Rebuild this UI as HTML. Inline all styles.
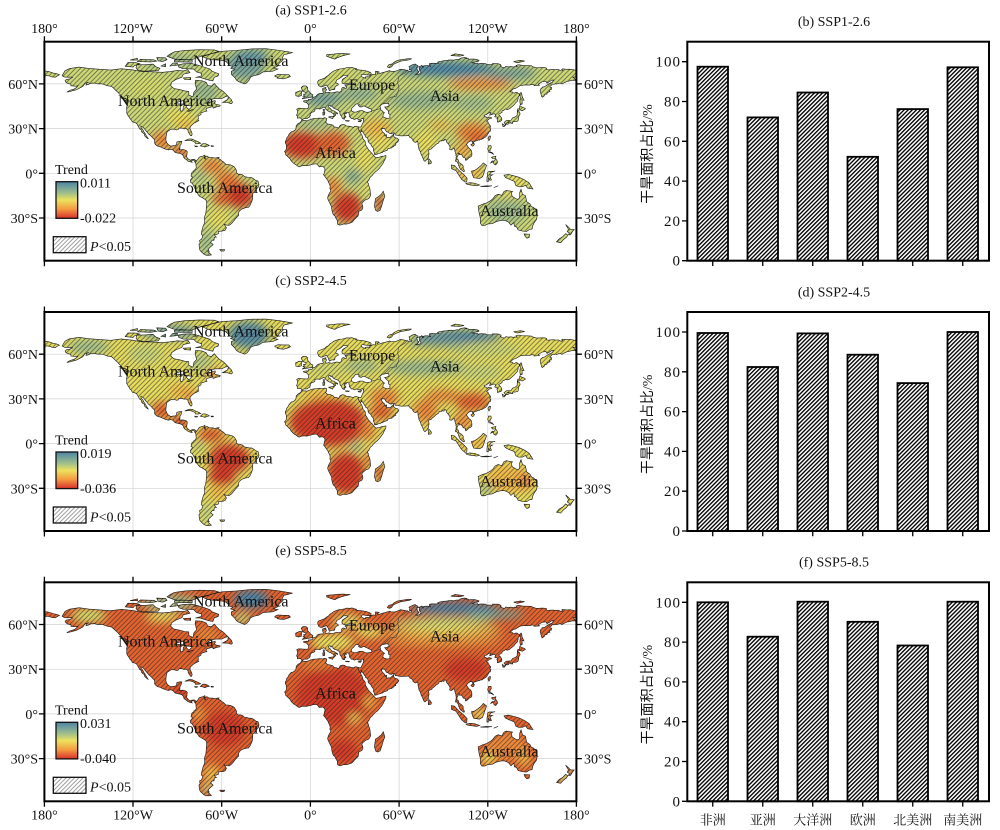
<!DOCTYPE html>
<html><head><meta charset="utf-8"><style>
html,body{margin:0;padding:0;background:#fff;}
svg{display:block;}
text{font-family:"Liberation Serif","Noto Serif CJK SC","Noto Sans CJK SC",serif;fill:#111;}
.cjk{font-family:"Liberation Serif","Noto Sans CJK SC",sans-serif;}
</style></head><body>
<svg width="1000" height="830" viewBox="0 0 1000 830" xmlns="http://www.w3.org/2000/svg">
<defs>
<path id="land" d="
M-168,65.5 L-166,68.8 -163,70.3 -156.5,71.3 -150,70.4 -141,69.7 -135,69.3 -128,70.2 -121,69.5 -114,68.3 -108,68.2 -100,67.8 -95,68.3 -90,69 -86,68.7 -83,69.5 -81.5,67.5 -86,66.5 -87,64.5 -91,63 -94,61 -94.5,58.8 -92.5,57 -88.5,56.2 -85,55.3 -82.3,55 -82.2,52.5 -79.5,51.3 -78.8,54.5 -77,56.5 -77.5,58.5 -78,60.5 -77.7,62.5 -73.5,62.2 -70.5,61 -69.5,59 -67,58.5 -65,60.3 -63.5,58.5 -61.5,56.5 -59,55 -57,53 -55.8,51.8 -57.5,51.4 -60,50.2 -64,50.2 -66.5,49.8 -68.5,48.8 -71,46.8 -69,47.5 -66,48.3 -64.5,48.8 -64.3,48 -65,47 -64,46.3 -61,45.7 -61.3,45 -63.5,44.6 -65.8,43.7 -66,44.8 -67,44.5 -70,43.7 -70.7,42.6 -70,41.8 -71.5,41.4 -74,40.6 -74,39.5 -75,38.8 -76,38.5 -75.8,37 -76,35.6 -75.5,35.3 -77,34.5 -78.5,33.8 -80,32.6 -81.3,31.3 -81.5,30 -80.5,28 -80,26.5 -80.3,25.3 -81,25.2 -81.8,26.3 -82.7,27.8 -82.8,29 -84,30 -85.5,29.8 -87,30.4 -89,30.3 -89.5,29.3 -90.5,29.1 -92,29.6 -94,29.7 -95.5,28.8 -97,27.8 -97.4,26 -97.7,24 -97.8,22.3 -97.2,20.5 -96.2,19.3 -94.5,18.2 -92.5,18.6 -91.5,18.5 -90.5,19.5 -90.4,21 -88.5,21.5 -87,21.5 -87.5,19.5 -88.2,18.5 -88.3,16.5 -88.8,15.8 -86,15.9 -84,15.3 -83.3,14.5 -83.6,12 -83.8,11 -82.5,9.5 -81.3,8.8 -80,9.3 -78.5,9.4 -77.3,8.5 -77.5,7.8 -78.2,7.5 -78.5,8.5 -79.5,8.9 -80.5,8.2 -80,7.4 -81,7.6 -82.8,8.2 -83.7,9 -85,9.8 -85.8,10.8 -85.7,11.5 -87,12.8 -88,13.2 -89.8,13.6 -91.5,14 -93,15.6 -94.5,16.2 -96,15.7 -98,16.2 -100,17 -101.6,17.8 -103.5,18.3 -105,19.5 -105.5,20.5 -105.3,21.5 -105.7,22.8 -106.8,23.8 -108,25.2 -109.3,26.2 -110.6,27.8 -111.7,29 -112.8,30.6 -114.7,31.7 -114.5,30.5 -113.3,29.2 -112.8,28 -112,27 -111.5,26 -110.6,24.6 -110,23.5 -109.5,23.1 -110.2,23.4 -111.3,24.3 -112.2,25.2 -112.3,26.4 -113.6,27.2 -114.3,28 -114.2,29 -115.5,29.8 -116.2,31.1 -116.9,32.3 -117.4,33.2 -118.5,34 -120.5,34.5 -121,35.6 -122.1,36.7 -122.5,37.6 -123,38.2 -123.8,39.5 -124.3,40.5 -124.2,42 -124.4,43.5 -124,45.7 -124,46.5 -124.7,48.3 -123,48.8 -123.2,49.4 -125,50 -127.5,50.8 -128,52 -129.5,53.5 -130.3,54.5 -131.5,55.5 -133,57 -134.5,58.3 -136.5,58.6 -138,59 -140,59.8 -142,60.1 -144,60 -146,60.6 -148.5,60.5 -150,59.7 -151.8,59.2 -151.5,60.5 -150,61.2 -152.5,60.4 -153.5,59 -154,58.3 -156.5,57 -158.5,56 -160.5,55.5 -163,54.8 -164.8,54.5 -162.5,55.8 -160,56.5 -158.5,57.5 -157.3,58.7 -159,58.5 -162,58.7 -162,59.8 -164.3,60.4 -165.5,61.2 -166,62.2 -165,63 -163,63.3 -161,64.3 -161.5,64.6 -164.7,64.5 -166.3,64.6 Z
M-118,70.8 L-117.5,72.8 -111,73 -106.5,73.3 -104.5,71.5 -101.8,70.5 -103,68.9 -108,68.8 -113,68.5 -117,69.4 Z
M-125.3,71.8 L-123.5,74.3 -118,74.2 -115.5,73.5 -119,72.3 -120,71.3 Z
M-80.5,73.7 L-76,72.6 -71,71 -68,70 -66.5,68.5 -62,66.8 -62.5,65.3 -65,64.5 -66,62 -68.5,62.5 -72,63.5 -75,64.5 -77.8,64.3 -74,65.3 -73.5,67 -77,68 -79,70 -86,70.2 -89,71.2 -89.5,72.8 -86,73.5 Z
M-90,76.2 L-80,76.3 -76,77.8 -73,78.8 -68,80 -62,81.8 -65,82.8 -75,83 -85,82.5 -92,81.5 -95,80 -97,78.5 -93,77 Z
M-92,74.8 L-80,74.6 -80,76 -88,76.5 -92,76 Z
M-95,72 L-93,74 -90,74 -90,72.5 Z M-101,72 L-98,73.5 -98,71.5 Z
M-117,75 L-115,76.5 -106,76.2 -104,75.3 -108,74.7 Z
M-100,75 L-97,76.2 -98,77.5 -104,77.7 -103,75.5 Z
M-122,76 L-117,77.2 -117,76 Z
M-86,64 L-81,64.3 -81,62.8 -85,63 Z
M-73,78.3 L-66,80.5 -60,81.9 -50,82.5 -40,83.5 -30,83.6 -21,82.5 -15,81.5 -12,81 -18,79.5 -19,77.5 -19,75.5 -21,74 -22,72 -25,70.5 -22,70 -25.5,68.5 -32,68 -35,66.2 -38.5,65.5 -40.5,64.5 -41.5,62.5 -43,60.8 -44.5,60 -46.5,60.8 -48.5,61.5 -50,62.5 -51,64 -52.5,65.5 -53.5,66.5 -53.5,68.5 -51,69.5 -54,70.5 -52.5,71.5 -55,72.5 -56,74 -58,75.5 -62,76 -66,76.2 -70,77 Z
M-24,65.5 L-22,66.4 -18,66.2 -14.6,66.2 -13.5,65 -15,64.3 -18,63.4 -20,63.5 -22.5,63.9 -22,64.5 -24,64.9 Z
M-85,21.9 L-82,23.1 -80,23 -77.5,21.8 -75.5,21 -74.2,20.2 -75.5,19.9 -77.7,19.8 -78,20.7 -79.5,21.6 -81.5,22.2 -84,22 Z
M-74.5,18.4 L-72.8,19.9 -71,19.9 -69.5,19.3 -68.4,18.6 -70,18.2 -71.4,17.6 -72.8,18.1 Z
M-78.3,18.4 L-76.3,18.2 -76.8,17.8 -78,17.9 Z M-67.2,18.5 L-65.6,18.4 -65.7,18 -67.1,18 Z
M-59.4,47.6 L-56,49.5 -55.5,51.5 -53.5,49.5 -52.7,47.5 -53.5,46.7 -56,47.5 Z
M-128.3,50.8 L-125,50.3 -123.3,48.4 -125,48.8 -127,50 Z
M-77.3,8 L-76.8,8.7 -75.8,9.8 -75.3,10.8 -74.2,11.2 -73,11.5 -72.2,11.8 -71.4,12.3 -71.2,11.4 -71.8,10.8 -71.6,9.8 -71,9.5 -71.4,10.8 -70,11.6 -68.5,10.6 -66.2,10.6 -64.5,10.2 -63,10.6 -61.8,10.7 -62.5,10 -61,9.3 -60.2,8.4 -59,7.8 -58,6.8 -57,5.9 -55.5,5.9 -54,5.6 -52.5,5 -51.5,4.3 -51,3.6 -50,1.9 -50,0.3 -48.5,-0.8 -47.5,-0.6 -46,-1 -44.5,-2.3 -43.3,-2.4 -41.5,-2.9 -39.8,-2.9 -38.2,-3.8 -37,-4.8 -35.5,-5.2 -35,-6.5 -34.8,-7.8 -35.2,-9.2 -36.4,-10.5 -37.2,-11.5 -38,-12.8 -39,-13.5 -39,-15 -39.2,-17.6 -39.7,-19 -40.3,-20.3 -41,-21.8 -42,-22.9 -43.5,-23 -44.8,-23.4 -46.5,-24 -48,-25.3 -48.6,-26.5 -48.6,-28.3 -49.6,-29.3 -50.7,-30.5 -52,-32.2 -53.4,-33.8 -54.9,-34.9 -56.5,-34.8 -58.4,-34.2 -57.4,-35.5 -56.8,-36.6 -57.7,-38.2 -59.2,-38.7 -61.5,-38.9 -62.3,-39 -62.2,-40.5 -63.8,-41.1 -65,-41.1 -64.3,-42.3 -63.6,-42.8 -65,-43 -65.2,-44.9 -66.6,-45.1 -67.5,-46.4 -65.8,-47.8 -67.7,-49.5 -68.6,-50.3 -69.1,-51.6 -68.4,-52.4 -69.5,-52.5 -68.3,-53.5 -67,-54.8 -68.6,-55 -70.5,-55 -72,-54.3 -74,-52.5 -74.8,-51.5 -75.2,-49.5 -75.4,-47.8 -74.6,-46.8 -75,-45 -73.6,-44.2 -72.8,-42 -73.7,-41 -73.6,-39.5 -73.2,-37.6 -72.6,-35.5 -71.7,-33.5 -71.5,-32 -71.7,-30 -71.4,-28.5 -70.9,-27.5 -70.6,-25.5 -70.4,-23 -70.2,-20.5 -70.3,-18.4 -71.3,-17.5 -73,-16.5 -75.2,-15.3 -76.2,-13.9 -76.7,-12.6 -77.6,-11.5 -78.2,-10 -79.2,-8 -79.9,-6.8 -81.1,-6 -81.2,-4.5 -80.3,-3.5 -79.8,-2.5 -80.8,-1.8 -80.5,-0.5 -80,0.8 -79,1.2 -78.9,1.9 -77.8,2.6 -77.2,3.8 -77.4,5 -77.4,6.3 -77.9,7.2 Z
M-61.3,-51.2 L-58,-51.2 -58.5,-52.2 -60.5,-52.2 Z
M-5.9,35.8 L-6.2,35.1 -6.9,34.1 -8.4,33.3 -9.6,32 -9.8,29.9 -10.4,29.1 -11.7,28.1 -12.9,27.9 -14.4,26.3 -15,25 -16,23.8 -16.3,22.5 -17,21.4 -16.9,20.3 -16.3,19.1 -16.2,17.6 -16.4,16.1 -16.9,15.1 -17.5,14.7 -16.8,13.6 -16.7,12.4 -15.8,11.7 -15.1,11 -14.3,10.2 -13.6,9.5 -13,8.3 -12,7.3 -11.1,6.5 -10,5.9 -8.6,4.8 -7.6,4.3 -6,5 -4,5.2 -2.8,5 -1.5,5.3 0,5.6 1.5,6.1 2.7,6.3 4.3,6.3 5.4,5.1 6,4.3 7.1,4.5 8.5,4.5 9.2,3.9 9.8,3.1 9.8,1.9 9.4,1.2 9.3,-0.5 8.8,-0.8 9.3,-1.5 10.1,-2.5 11.1,-3.9 11.9,-5 12.3,-6.1 12.7,-6.9 13.2,-8 13.4,-9.3 13.1,-10.2 13.8,-11.3 13.7,-12 12.7,-13.6 12.1,-14.9 11.7,-16.2 11.8,-17.2 12.6,-19 13.5,-20.8 14.4,-22.7 14.4,-24 14.9,-26.2 15.5,-27.8 16.6,-28.7 17.1,-29.9 17.7,-30.8 18.3,-31.9 18.2,-33 18.4,-34.1 19.2,-34.5 20.1,-34.8 21.4,-34.4 22.5,-34 24.7,-34.1 25.8,-33.7 27.5,-33.2 28.6,-32.5 29.5,-31.3 30.5,-30.4 31.3,-29.4 32.2,-28.8 32.5,-27.6 32.8,-26.3 32.6,-25.7 33.3,-25.3 34.8,-24.6 35.5,-23.3 35.4,-21.8 34.8,-20.5 35.2,-19.6 36.2,-18.7 37.5,-17.6 38.9,-17.3 39.8,-16.5 40.8,-14.7 40.5,-12.6 40.3,-10.5 39.9,-9.2 39.3,-8 39.3,-6.9 38.7,-6.2 39,-5 39.6,-4.5 40.2,-3.1 40.9,-2.1 41.6,-1.7 42.6,-0.4 43.9,0.9 45.4,2 46.6,3.3 47.7,4.7 48.5,5.8 49.2,6.8 49.7,8 50.4,9.1 50.8,10.3 51.1,10.6 51.1,11.9 49.7,11.6 48.4,11.4 46.6,10.8 45.5,10.7 44.6,10.4 43.7,10.9 43.5,11.3 42.7,12.1 42.4,12.5 41.6,13.5 40.9,14.1 39.8,15.4 39.3,15.9 38.8,16.6 38.4,17.4 37.8,18.4 37.5,18.6 37.2,19.6 37.1,20.7 37.1,21.3 36.6,22 35.5,23.1 35.5,23.8 34.9,25.5 34.5,26.1 33.9,27.4 33.6,27.9 33.1,28.4 32.4,29.9 32.3,31.2 31,31.6 30,31.5 29.1,30.9 27.5,31.3 26.3,31.6 25.2,31.6 24,31.9 23.1,32.6 21.7,32.8 20.1,32.2 19.8,31.6 19,30.3 17.9,30.9 16,31.2 15.2,32.3 13.3,32.9 11.5,33.1 10.9,33.8 10.1,34.3 10.8,35.1 11.1,36.8 10.2,37.2 9.5,37.3 8.4,36.9 6.3,37.1 4.8,36.9 3.2,36.8 1.5,36.6 0.5,36.3 -0.4,35.9 -1.2,35.7 -2.2,35.2 -3.6,35.4 -4.6,35.3 -5.2,35.8 Z
M44.2,-25 L43.3,-22 44,-17 46,-15.7 48,-14 49.3,-12 50.4,-15.5 49.5,-17.5 48.5,-21 47.2,-24.8 45.5,-25.6 Z
M-5.6,36 L-6.3,36.8 -7.4,37.2 -8.9,37 -8.8,38.5 -9.4,38.8 -8.9,40.2 -8.7,42 -9.3,43 -8,43.7 -6,43.6 -4,43.4 -1.8,43.4 -1.3,44.5 -1.2,46 -2.2,47 -2.5,47.5 -4.4,47.9 -4.7,48.5 -3,48.8 -1.5,48.7 -1.4,49.6 0.2,49.6 1.5,50.2 1.7,51 3,51.3 3.8,51.8 4.8,53 6,53.5 7.3,53.7 8.5,53.6 8.7,54.5 8.3,55.5 8.2,56.8 8.6,57.1 10.5,57.7 10.4,56.5 10.9,56.3 10.6,55.5 9.9,55 10,54.4 11,54 12.5,54.4 14.2,53.9 16,54.3 18,54.8 19.5,54.4 21.2,55.2 21.1,56.5 21.5,57.4 22.6,57.7 23.7,57 24.4,57.3 24.3,58.3 23.5,58.6 23.5,59.2 25.5,59.6 28,59.5 30.2,59.9 28.5,60.5 26,60.4 23,59.9 21.5,60.6 21.3,61.8 21.7,63 22.8,63.8 24.7,64.9 25.4,65.5 24.5,65.8 22.3,65.8 21.3,64.8 19.8,63.7 18,62.8 17.3,61.5 17.2,60.7 18.6,60.2 18.9,59.3 17.8,58.9 16.6,57.8 16.5,56.3 15.8,56.1 14.6,56.2 12.9,55.4 12.5,56.2 12.1,57.5 11.4,58.6 10.6,59.4 10.3,59 9.4,58.7 8.1,58.1 7,58 5.6,58.8 5.3,59.6 4.9,60.7 5,61.6 5.6,62.4 7,62.9 8.6,63.5 9.8,64 10.6,64.8 12.3,65.8 13.2,66.9 14.5,67.7 15.5,68.5 16.6,69 18.2,69.6 19.6,70 21.5,70.2 23.2,70.5 24.6,71 26.3,70.9 28.2,71.1 29.5,70.6 31.2,70.2 30.5,69.7 32.9,69.4 35.5,69.1 38.2,68.6 40.4,67.8 41.1,67.2 41,66.3 39.5,65.9 38,66 35.5,66.5 34.3,66 34.7,65 35.5,64.4 36.5,64.1 37.5,63.8 37.2,64.6 38.5,64.8 40.3,64.6 40.1,65.6 42.5,66.4 44,66.2 43.9,67.5 44.1,68.4 46,68.3 46.6,67.9 45,67.4 46.3,66.7 48.5,67.5 50.5,68 53.6,68.9 54.5,68.5 55.6,68.4 57.4,68.5 58.9,69 60.1,69.5 60.9,69.9 63.5,69.5 64.9,69.2 67,68.5 68.2,68.3 68.6,69.2 66.9,69.5 67.3,70.8 66.7,71.6 68.5,72.6 69.3,73 70.9,73.4 71.5,72.9 72.8,72.2 72.5,71.1 71.9,71.2 72.3,69.8 72.6,68.8 73.6,68.3 73.2,67.8 72.3,66.8 71.2,66.4 72.4,66.2 73.9,66.8 74.9,67.8 74.4,68.8 73.8,69.1 73.6,70.4 74.2,71.1 73.1,71.4 74.9,72.1 75.4,72.5 75.7,71.4 76.5,71.2 75.9,71.9 77.6,72.3 79.6,72.3 81.5,71.7 80.6,72.6 80.5,73.6 82.3,73.9 84.6,73.8 86.8,73.9 86,74.5 87.2,75.1 88.3,75.2 90.3,75.6 92.9,75.8 93.2,76 95.9,76.1 96.7,75.9 98.9,76.4 100.8,76.4 101,76.9 102.1,77.4 104.4,77.7 106.1,77.4 104.7,77.1 106.9,77 107.2,76.5 108.2,76.7 111.1,76.7 113.3,76.2 114.1,75.8 113.9,75.3 112.8,75 110.2,74.5 109.4,74.2 110.6,74 112.1,73.8 113,74 113.5,73.3 114,73.6 115.6,73.8 118.8,73.6 119,73.1 123.2,73 123.3,73.7 125.4,73.6 127,73.6 128.6,73 129.1,72.4 128.5,72 129.7,71.2 131.3,70.8 132.3,71.8 133.9,71.4 135.6,71.7 137.5,71.3 138.2,71.6 139.9,71.5 139.1,72.4 140.5,72.8 141.4,72.8 144,72.3 146.4,72.3 149.5,72.2 150.4,71.6 152.9,70.8 157,71 159,70.9 159.8,70.5 159.7,69.7 160.9,69.4 162.3,69.6 164.1,69.7 165.9,69.5 167.8,69.6 169.6,68.7 170.8,69 170,69.7 170.5,70.1 173.6,69.8 175.7,69.9 178.6,69.4 180,69 180,65 178.7,64.5 177.4,64.6 178.3,64.1 178.9,63.3 179.4,62.9 179.2,62.3 177.4,62.5 174.6,61.8 173.7,61.7 172.2,61 170.7,60.3 170.3,59.9 168.9,60.6 166.3,59.8 165.8,60.2 164.9,59.7 163.5,59.9 163.2,59.2 162,58.2 162.1,57.8 163.2,57.6 163,56.2 162.1,56.1 161.7,55.3 162.1,54.9 160.4,54.3 160,53.2 158.5,53 158.2,51.9 156.8,51 156.4,51.7 156,53.2 155.4,55.4 155.9,56.8 156.8,57.4 156.8,57.8 158.4,58.1 160.2,59.3 161.9,60.3 163.7,61.1 164.5,62.6 163.3,62.5 162,61.6 160.1,60.5 159.3,61.8 156.7,61.4 154.2,59.8 155,59.1 152.8,58.9 151.3,58.8 151.3,59.5 149.8,59.7 148.5,59.2 145.5,59.3 142.2,59 139,57.1 137.2,56.6 135.1,54.7 136.7,54.6 137.2,54 138.2,53.8 138.8,54.3 139.9,54.2 141.3,53.1 141.4,52.2 140.6,51.2 140.5,50 140.1,48.4 138.6,47 138.2,46.3 136.9,45.1 135.5,44 134.9,43.4 133.5,42.8 132.9,42.8 132.3,43.3 130.8,42.2 130.4,42.3 129.6,41.6 129.7,40.9 129.2,40.7 128.6,40.2 127.5,39.8 127.5,39.3 128.3,38.6 129.2,37.4 129.5,36.8 129.5,35.6 129,35.1 127.4,34.5 126.5,34.4 126.4,34.9 126.6,35.7 126.1,36.7 126.9,36.9 126.2,37.7 125.7,37.9 125.3,37.7 124.7,38.1 125.2,38.7 125.1,39.6 124.3,40 122.9,39.6 122.1,39.2 121.1,38.9 121.6,39.4 121.4,39.8 122.2,40.4 121.6,40.9 120.8,40.6 119.6,39.9 119,39.3 118,39.2 117.5,38.7 118.1,38.1 118.9,37.9 118.9,37.4 119.7,37.2 120.8,37.9 121.7,37.5 122.4,37.5 122.5,36.9 121.1,36.7 120.6,36.1 119.7,35.6 119.2,34.9 120.2,34.4 120.6,33.4 121.2,32.5 121.9,31.7 121.9,30.9 121.3,30.7 121.5,30.1 122.1,29.8 121.7,28.2 121.1,28.1 119.6,25.7 118.7,24.5 115.9,22.8 114.8,22.7 114.2,22.2 113.8,22.5 113.2,22.1 111.8,21.6 110.8,21.4 110.4,20.3 109.9,20.3 109.6,21 109.9,21.4 108.5,21.7 108,21.6 106.7,20.7 105.9,19.8 105.7,19.1 106.4,18 107.4,16.7 108.3,16.1 108.9,15.3 109.3,13.4 109.2,11.7 108.4,11 107.2,10.4 106.4,9.5 105.2,8.6 104.8,9.2 105.1,9.9 104.3,10.5 103.5,10.6 103.1,11.2 102.6,12.2 101.7,12.6 100.8,12.6 101,13.4 100.1,13.4 100,12.3 99.2,11 99.2,9.2 99.9,9.2 100.3,8.3 100.5,7.4 101,6.9 101.6,6.7 102.1,6.2 102.4,6.1 103.4,4.9 103.4,4.2 103.3,3.7 103.4,3.4 103.5,2.8 103.9,2.5 104.2,1.6 104.2,1.3 103.5,1.2 102.6,2 101.4,2.8 101.3,3.3 100.7,3.9 100.6,4.8 100.2,5.3 100.3,6 100.1,6.5 99.7,6.8 99.5,7.3 99,7.9 98.5,8.4 98.3,7.8 98.2,8.4 98.3,9 98.6,9.9 98.5,10.7 98.8,11.4 98.4,12 98.5,13.1 98.1,13.6 97.8,14.8 97.6,16.1 97.2,16.9 96.5,16.4 95.4,15.7 94.8,15.8 94.2,16 94.5,17.3 94.3,18.2 93.5,19.4 93.7,19.7 93.1,19.9 92.4,20.7 92.1,21.2 92,21.7 91.8,22.2 91.4,22.8 90.5,22.8 90.6,22.4 90.3,21.8 89.8,22 89.4,22 89,22.1 88.9,21.7 88.2,21.7 87,21.5 87,20.7 86.5,20.2 85.1,19.5 83.9,18.3 83.2,17.7 82.2,17 82.2,16.6 81.7,16.3 80.8,16 80.3,15.9 80,15.1 80.2,13.8 80.3,13 79.9,12.1 79.9,10.4 79.3,10.3 78.9,9.5 79.2,9.2 78.3,8.9 77.9,8.3 77.5,8 76.6,8.9 76.1,10.3 75.7,11.3 75.4,11.8 74.9,12.7 74.6,14 74.4,14.6 73.5,16 73.1,17.9 72.8,19.2 72.8,20.4 72.6,21.4 71.2,20.8 70.5,20.9 69.2,22.1 69.6,22.5 69.3,22.8 68.2,23.7 67.4,23.9 67.1,24.7 66.4,25.4 64.5,25.2 62.9,25.2 61.5,25.1 59.6,25.4 58.5,25.6 57.4,25.7 57,27 56.5,27.1 55.7,27 54.7,26.5 53.5,26.8 52.5,27.6 51.5,27.9 50.9,28.8 50.1,30.1 49.6,30 48.9,30.3 48.6,29.9 48,30 48.2,29.5 48.1,29.3 48.4,28.6 48.8,27.7 49.3,27.5 49.5,27.1 50.2,26.7 50.1,25.9 50.2,25.6 50.5,25.3 50.8,24.8 50.7,25.5 51,26 51.6,25.8 51.6,25.2 51.4,24.6 51.6,24.2 51.8,24 52.6,24.2 54,24.1 54.7,24.8 55.4,25.4 56.1,26.1 56.4,26.4 56.4,25.9 56.3,25.7 56.4,24.9 56.8,24.2 57.4,23.9 58.1,23.7 58.7,23.6 59.5,22.7 59.8,22.5 59.8,22.3 59.4,21.7 59.3,21.4 58.9,21.1 58.5,20.4 58,20.5 57.8,20.2 57.7,19.7 57.8,19.1 57.7,18.9 57.2,18.9 56.6,18.6 56.5,18.1 56.3,17.9 55.7,17.9 55.3,17.6 55.3,17.2 54.8,17 54.2,17 53.6,16.7 53.1,16.65 52.4,16.4 52.2,15.9 52.2,15.6 51.2,15.2 49.6,14.7 48.7,14 48.2,13.9 47.9,14 47.4,13.6 46.7,13.4 45.9,13.3 45.6,13.3 45.4,13 45.1,12.95 45,12.7 44.5,12.7 44.2,12.6 43.5,12.6 43.2,13.2 43.3,13.8 43.1,14.1 42.9,14.8 42.6,15.2 42.8,15.3 42.7,15.7 42.8,15.9 42.8,16.3 42.6,16.8 42.3,17.1 42.3,17.5 41.8,17.8 41.2,18.7 40.9,19.5 40.2,20.2 39.8,20.3 39.1,21.3 39,22 39.1,22.6 38.5,23.7 38,24.1 37.5,24.3 37.2,24.9 37.2,25.1 36.9,25.6 36.6,25.8 36.2,26.6 35.6,27.4 35.1,28.1 34.6,28.1 34.8,28.6 34.8,29 34.95,29.4 34.6,28.8 34.2,27.8 33.9,27.6 33.1,28.4 32.4,29.9 32.3,31.2 32.9,31.1 33.8,31 34.3,31.2 34.5,31.6 34.75,32.1 35,32.8 35.1,33.1 35.5,33.9 36,34.6 35.9,35.4 36.1,35.8 35.8,36.3 36.2,36.7 35.6,36.6 34.7,36.8 34,36.2 32.5,36.1 31.7,36.6 30.6,36.7 30.4,36.3 29.7,36.1 28.7,36.7 27.6,36.7 27.3,37.4 26.3,38.2 26.8,39 26.2,39.5 26.1,40.6 25.4,40.9 24.9,40.9 23.7,40.7 24.4,40.1 23.9,40 23.3,40 22.8,40.5 22.6,40.3 22.8,39.7 23.4,39.2 23,39 23.5,38.5 24,38.2 24,37.7 23.1,37.9 23.4,37.4 22.8,37.3 23.2,36.4 22.5,36.4 21.7,36.8 21.3,37.6 21.1,38.3 20.2,39.3 20.1,39.6 20,39.7 19.96,40.9 19.5,41.7 19.4,41.9 18.9,42.3 18.5,42.6 17.5,43 16.9,43.2 16,43.5 15.2,44.2 15.4,44.3 14.9,45.1 14.3,45.2 13.95,44.8 13.7,45.1 13.7,45.5 13.1,45.7 12.3,45.4 12.6,44.1 13.5,43.6 14,42.8 15.1,41.95 15.9,41.96 16.2,41.7 17.5,40.9 18.4,40.4 18.5,40.2 18.3,39.8 17.7,40.3 16.9,40.4 16.4,39.8 17.2,39.4 17.1,38.9 16.6,38.8 16.1,38 15.7,37.9 15.7,38.2 15.9,38.8 16.1,39 15.4,40.05 15,40.2 14.1,40.8 13.6,41.2 12.9,41.3 12.1,41.7 11.2,42.4 10.5,42.9 10.2,43.9 9.7,44 8.9,44.4 8.4,44.2 7.9,43.8 7.4,43.7 6.5,43.1 4.6,43.4 3.1,43.1 3,42.5 3.04,41.9 2.1,41.2 0.8,41 0.7,40.7 0.1,40.1 -0.3,39.3 0,38.9 -0.5,38.3 -0.7,37.6 -1.4,37.4 -2.1,36.7 -3.4,36.7 -4.4,36.7 -5,36.3 -5.4,35.9 Z
M-180,68.8 L-177,68.3 -174,67.3 -171.5,66.8 -169.8,66.1 -171,65.5 -172.5,64.5 -175,64.7 -176.5,65.3 -178.5,65.6 -180,65 Z
M-5.7,50 L1.4,51.2 1.7,52.7 0.2,53.5 -0.5,54.5 -1.6,55.6 -2,56.5 -1.8,57.6 -3,58.6 -5,58.6 -6.2,57.5 -5.6,56 -4.8,55 -3,54.2 -3.1,53.3 -4.6,53.2 -4.2,52.2 -5,51.7 -3.5,51.4 Z
M-6,52.2 L-6.1,53.9 -5.5,55.2 -7.5,55.3 -10,54.2 -9.8,52 -8,51.6 Z
M12.4,37.9 L15.6,38.3 15.1,36.6 12.4,37.6 Z M8.4,41 L9.8,40.9 9.6,39.2 8.5,39 Z M8.6,42.9 L9.5,42.9 9.4,41.4 8.8,41.6 Z
M23.5,35.4 L26.3,35.3 26,34.9 24,35.1 Z M32.3,35 L34.6,35.7 34,34.6 32.6,34.7 Z
M11,78.5 L11,79.6 16,80 18,80.3 22,80.4 27,80.1 23,79.2 21,78.6 18,77.5 16.5,76.6 14,77.4 Z
M52,71.4 L53,72.8 55.5,73.5 56.5,74.5 59,75.8 62,76.3 66,76.9 68.5,76.9 67,76.2 61,75.2 58,74 56,73 55,71.5 53.5,70.8 Z
M95,79 L98,80.2 104,79.3 101,78.6 Z M137.5,75 L142,75.8 145,75.3 140,74.2 Z
M142,46 L143.3,46.5 143.2,49.3 144.5,49 143.2,51.8 143,53.5 142.5,54.3 141.6,53.3 142,51 141.7,48.5 Z
M129.8,33.2 L130.3,31.3 131.3,31.4 132,33 131,34 132.5,35.4 134,35.5 135.7,35.6 136.8,37.2 138.5,37.8 139.9,39 139.9,40.6 140.3,41.3 141.4,41.3 141.9,39.8 141,38.2 140.9,36.9 140.6,35.7 140.4,35.2 139.8,34.9 139,34.7 138.1,34.6 137,34.6 136.8,33.5 135.5,33.6 135.1,34.6 133.4,34.3 134.7,33.8 134.2,33.2 133,32.8 132.5,33.3 131.8,32 Z
M140,41.5 L141.1,42.3 141.8,42.6 143.3,42 145.5,43.3 144.6,44 143.1,44.5 141.7,45.4 141.4,44 141.4,43.2 140.4,43.3 140,42.2 Z
M120.1,23.5 L121,25 121.9,25 121.5,23 120.8,21.9 Z M108.6,19.2 L110,20.1 111,19.7 110.5,18.5 109.5,18.2 Z
M79.8,6.2 L81.6,6.5 81.9,7.6 81.2,8.6 80.1,9.8 79.7,8 Z
M120.6,18.5 L122.2,18.5 122.4,17 121.6,15.9 121.5,14.3 122.8,14 124.1,12.6 123,13.3 122,13.8 120.8,13.9 120.6,14.8 119.9,16.4 120.4,17.6 Z
M122,7 L123,8.3 124.3,8.2 125.4,9.8 126.4,8.3 126.6,7.2 125.8,6.1 125.4,5.6 124.2,6.2 123.8,7.7 123,7.4 Z
M123,11 L124.5,11.2 125.5,11.5 125,10 123.5,9.7 122.5,10.7 Z
M95.3,5.6 L97.5,5.2 100.5,2 104,-1 106,-3.2 105.8,-5.8 104.6,-5.9 102.3,-4 100.3,-1 98.6,1.7 95.5,3 Z
M105.2,-6.8 L108,-6.3 111,-6.6 114.5,-7.8 112.5,-8.4 108,-7.8 106,-7.4 Z
M115,-8.8 L119,-8.4 121,-8.5 122.8,-8.4 120,-8.9 116,-8.9 Z M124,-9.6 L127,-8.4 125,-9.2 Z
M109,1.5 L109.6,-1 110.5,-3 114.5,-3.5 116.5,-2.3 117.5,0.5 117.8,1.5 119.2,5.3 117,7 115.5,5.2 113,3.2 111,1.9 Z
M119.4,-5.4 L119.5,-3 120,0.7 121,1.3 124.5,1.3 125,1.6 122,0.6 121.2,-1 123.3,-1 121.5,-2 122.5,-4.5 121.3,-4.7 120.5,-2.8 120.4,-5.5 Z
M131,-1.3 L134,-0.8 137,-1.5 141,-2.6 145,-4.5 148,-6.5 150.5,-10.5 147,-10 145.5,-8 143.5,-9 141,-9.1 139,-8.2 138,-5.4 134.5,-4 132,-2.8 Z
M113.5,-22 L114,-26 115,-30 115,-33.5 116,-35 118,-35 120,-34 123,-33.8 126,-32.3 129,-31.6 131.2,-31.5 134,-32.7 135.7,-34.8 137.7,-33 138,-35.5 139.5,-36 140.5,-38 143.5,-38.8 146.3,-39 148,-37.8 150,-37.4 150.5,-35 151.5,-33 153,-31 153.5,-28 153,-25 151,-23 149.5,-22.3 148.5,-20.5 146.3,-19 145.5,-15 143.5,-14 142.5,-10.7 141.6,-13 141.5,-16.5 140.5,-17.5 139,-17 136.5,-15.5 136,-13 136.8,-12.2 132.5,-11.5 131,-12.2 129.5,-14.8 127,-14 125,-15 123.5,-17 122,-18.3 119,-20 116.5,-20.7 114.2,-21.8 Z
M144.6,-40.7 L148.3,-40.9 148,-43 146.5,-43.6 145.2,-42.2 Z
M172.7,-34.4 L174.5,-36 175.9,-37.5 178.5,-37.7 177.2,-39.2 176,-41.3 174.6,-41.3 175.2,-40 173.8,-39.2 174.6,-37.5 Z
M172.7,-40.5 L174.2,-41.5 173.2,-43 171.2,-44.5 169.3,-46.6 166.5,-46 168.3,-44 170.7,-42.6 Z"/>
<path id="seas" d="M47,45 L48.5,46.5 49.5,46.6 51.2,47 53,46.8 53.2,45.3 51.3,44.5 50.3,44.5 51.2,43.3 52.7,42.1 52.8,41.2 52.9,40 53.9,39.5 53.7,38 53.9,37.2 52,36.8 50,37.4 49,38.2 49.4,40.2 50.2,40.6 49.5,41 48.5,42 47.5,42.9 47.4,44 Z
M27.7,42.5 L28,43.6 28.6,44.2 29.3,44.8 29.7,45.3 30.6,46.4 31.7,46.6 33.2,46 32.5,45.4 33.5,44.6 34.5,44.5 35.6,45.1 36.5,45.2 37.4,44.7 38.3,44.3 39.6,43.6 40.9,43.2 41.6,41.9 41.5,41.5 39.5,41.1 38.3,40.9 37,41.2 35.2,42 33.4,42 32.2,41.6 31.2,41.1 29.2,41.2 28.1,41.6 Z
M-92.1,46.7 L-89,48 -86,48.7 -84.8,46.8 -87,46.5 Z
M-87.8,41.7 L-86.3,42 -86,44.5 -85,46 -87,45.8 -88,44.5 Z
M-84.5,45.9 L-81.5,45.3 -80,45 -81.7,43.2 -82.5,43 -83.5,44 Z
M-83.5,41.7 L-79,42.8 -80.4,42.6 -82,41.6 Z"/>
<clipPath id="lc"><use href="#land"/></clipPath>
<filter id="bl" filterUnits="userSpaceOnUse" x="-200" y="-100" width="400" height="200"><feGaussianBlur stdDeviation="3"/></filter>
<pattern id="mh" width="2.3" height="2.3" patternUnits="userSpaceOnUse" patternTransform="rotate(-45)"><line x1="1.15" y1="-1" x2="1.15" y2="3.3" stroke="#222" stroke-width="0.5" stroke-opacity="0.7"/></pattern>
<pattern id="lh" width="3" height="3" patternUnits="userSpaceOnUse" patternTransform="rotate(45)"><line x1="1.5" y1="-1" x2="1.5" y2="4" stroke="#777" stroke-width="0.7"/></pattern>
<pattern id="bh" width="2.9" height="2.9" patternUnits="userSpaceOnUse" patternTransform="rotate(45)"><rect x="0" y="-1" width="1.35" height="5" fill="#000"/></pattern>
<linearGradient id="cb" x1="0" y1="0" x2="0" y2="1">
<stop offset="0" stop-color="#4c84a6"/><stop offset="0.3" stop-color="#9dbd8c"/><stop offset="0.5" stop-color="#ece25e"/><stop offset="0.75" stop-color="#f39a40"/><stop offset="1" stop-color="#d8302a"/>
</linearGradient>
</defs>
<rect width="1000" height="830" fill="#fff"/>

<!-- ============ MAP PANEL (a) ============ -->
<g>
<g stroke="#d2d2d2" stroke-width="0.7">
<line x1="133" y1="41.7" x2="133" y2="260.7"/><line x1="221.7" y1="41.7" x2="221.7" y2="260.7"/><line x1="310.4" y1="41.7" x2="310.4" y2="260.7"/><line x1="399.1" y1="41.7" x2="399.1" y2="260.7"/><line x1="487.8" y1="41.7" x2="487.8" y2="260.7"/>
<line x1="44.4" y1="83.9" x2="576.4" y2="83.9"/><line x1="44.4" y1="128.6" x2="576.4" y2="128.6"/><line x1="44.4" y1="173.3" x2="576.4" y2="173.3"/><line x1="44.4" y1="218" x2="576.4" y2="218"/>
</g>
<g transform="translate(310.4,173.3) scale(1.478,-1.49)">
<g clip-path="url(#lc)">
<rect x="-180" y="-90" width="360" height="180" fill="#cdd877"/>
<g filter="url(#bl)">
<ellipse cx="-45" cy="72" rx="14" ry="9" fill="#7aa49c"/><ellipse cx="-40" cy="79" rx="12" ry="4" fill="#6096a8"/>
<ellipse cx="-95" cy="75" rx="20" ry="5" fill="#a3c08c"/><ellipse cx="-72" cy="55" rx="10" ry="7" fill="#9cbc8e"/>
<ellipse cx="-110" cy="58" rx="12" ry="6" fill="#d6dc6c"/>
<ellipse cx="-88" cy="38" rx="10" ry="5" fill="#ece05c"/><ellipse cx="-84" cy="32" rx="7" ry="4" fill="#f2c04a"/>
<ellipse cx="-100" cy="22" rx="8" ry="6" fill="#ee8a3a"/><ellipse cx="-88" cy="14" rx="6" ry="4" fill="#e4632f"/>
<ellipse cx="-66" cy="5" rx="8" ry="5" fill="#ee8a3a"/><ellipse cx="-75" cy="-2" rx="4" ry="4" fill="#a3c08c"/>
<ellipse cx="-56" cy="-5" rx="8" ry="6" fill="#ee7a36"/><ellipse cx="-48" cy="-15" rx="10" ry="8" fill="#d63a28"/>
<ellipse cx="-60" cy="-17" rx="6" ry="5" fill="#e4632f"/><ellipse cx="-62" cy="-30" rx="7" ry="6" fill="#ecdf5e"/>
<ellipse cx="-70" cy="-47" rx="5" ry="8" fill="#a3c08c"/>
<ellipse cx="-5" cy="19" rx="15" ry="9" fill="#d63a28"/><ellipse cx="15" cy="20" rx="12" ry="8" fill="#e4632f"/>
<ellipse cx="3" cy="33" rx="14" ry="3" fill="#a3c08c"/><ellipse cx="37" cy="10" rx="6" ry="8" fill="#ecdf5e"/>
<ellipse cx="29" cy="-2" rx="5" ry="4" fill="#7aa49c"/><ellipse cx="15" cy="-9" rx="6" ry="6" fill="#ee8a3a"/>
<ellipse cx="25" cy="-23" rx="10" ry="10" fill="#d63a28"/><ellipse cx="40" cy="-10" rx="4" ry="4" fill="#ecdf5e"/>
<ellipse cx="47" cy="-20" rx="3" ry="6" fill="#d63a28"/>
<ellipse cx="8" cy="50" rx="14" ry="5" fill="#7aa49c"/><ellipse cx="32" cy="53" rx="15" ry="4" fill="#8fb496"/>
<ellipse cx="20" cy="64" rx="8" ry="5" fill="#d6dc6c"/>
<ellipse cx="92" cy="70" rx="35" ry="5" fill="#4a86ac"/><ellipse cx="135" cy="67" rx="18" ry="4" fill="#7aa49c"/>
<ellipse cx="115" cy="60" rx="22" ry="3.5" fill="#ee8a3a"/><ellipse cx="75" cy="49" rx="22" ry="6" fill="#99ba8e"/>
<ellipse cx="110" cy="47" rx="14" ry="5" fill="#a3c08c"/><ellipse cx="45" cy="30" rx="10" ry="6" fill="#f2bb48"/>
<ellipse cx="48" cy="20" rx="8" ry="5" fill="#ecdf5e"/><ellipse cx="78" cy="21" rx="8" ry="8" fill="#ecdf5e"/>
<ellipse cx="88" cy="32" rx="8" ry="3" fill="#f2bb48"/><ellipse cx="110" cy="28" rx="12" ry="6" fill="#ee8a3a"/>
<ellipse cx="113" cy="23" rx="8" ry="4" fill="#e4632f"/><ellipse cx="103" cy="15" rx="5" ry="6" fill="#f2a844"/>
<ellipse cx="108" cy="0" rx="10" ry="5" fill="#f2bb48"/><ellipse cx="140" cy="-5" rx="8" ry="4" fill="#ecdf5e"/>
<ellipse cx="133" cy="-25" rx="14" ry="9" fill="#a3c08c"/><ellipse cx="135" cy="-14" rx="10" ry="3" fill="#ecdf5e"/>
</g>
<rect x="-180" y="-90" width="360" height="180" fill="url(#mh)"/>
</g>
<use href="#land" fill="none" stroke="#1a1a1a" stroke-width="0.42"/>
<use href="#seas" fill="#fff" stroke="#1a1a1a" stroke-width="0.42"/>
<path d="M66,69.5 L64,67.5 60,65 59,61 60,57 59,54 58,51.5 54,51 51,48 49,46.5 M47.5,43.5 L44,42.5 41.5,42" fill="none" stroke="#333" stroke-width="0.35"/>
</g>
<rect x="44.4" y="41.7" width="532" height="219" fill="none" stroke="#000" stroke-width="2"/>
<g stroke="#000" stroke-width="1.3">
<path d="M44.4,41.7V36.2M133,41.7V36.2M221.7,41.7V36.2M310.4,41.7V36.2M399.1,41.7V36.2M487.8,41.7V36.2M576.4,41.7V36.2"/>
<path d="M44.4,260.7V266.2M133,260.7V266.2M221.7,260.7V266.2M310.4,260.7V266.2M399.1,260.7V266.2M487.8,260.7V266.2M576.4,260.7V266.2"/>
<path d="M44.4,83.9H38.9M44.4,128.6H38.9M44.4,173.3H38.9M44.4,218H38.9M576.4,83.9H581.9M576.4,128.6H581.9M576.4,173.3H581.9M576.4,218H581.9"/>
</g>
<g font-size="14" text-anchor="middle">
<text x="44.4" y="33">180°</text><text x="133" y="33">120°W</text><text x="221.7" y="33">60°W</text><text x="310.4" y="33">0°</text><text x="399.1" y="33">60°W</text><text x="487.8" y="33">120°W</text><text x="576.4" y="33">180°</text>
</g>
<g font-size="14" text-anchor="end"><text x="38" y="88.9">60°N</text><text x="38" y="133.6">30°N</text><text x="38" y="178.3">0°</text><text x="38" y="223">30°S</text></g>
<g font-size="14"><text x="584" y="88.9">60°N</text><text x="584" y="133.6">30°N</text><text x="584" y="178.3">0°</text><text x="584" y="223">30°S</text></g>
<text x="311" y="14.5" font-size="14" text-anchor="middle">(a) SSP1-2.6</text>
<g font-size="16" fill="#1a1a1a">
<text x="193" y="66">North America</text><text x="118" y="106">North America</text><text x="177" y="193">South America</text>
<text x="315" y="158">Africa</text><text x="349" y="90">Europe</text><text x="430" y="101">Asia</text><text x="480" y="216">Australia</text>
</g>
<text x="55" y="174" font-size="14">Trend</text>
<rect x="56" y="181.7" width="21.7" height="36.6" fill="url(#cb)" stroke="#111" stroke-width="1.3"/>
<text x="80" y="187.5" font-size="14">0.011</text><text x="80" y="222.5" font-size="14">-0.022</text>
<rect x="53.3" y="236.7" width="32.7" height="16" fill="url(#lh)" stroke="#111" stroke-width="1.3"/>
<text x="90" y="251" font-size="14"><tspan font-style="italic">P</tspan>&lt;0.05</text>
</g>

<!-- ============ MAP PANEL (c) ============ -->
<g transform="translate(0,270.3)">
<g stroke="#d2d2d2" stroke-width="0.7">
<line x1="133" y1="41.7" x2="133" y2="260.7"/><line x1="221.7" y1="41.7" x2="221.7" y2="260.7"/><line x1="310.4" y1="41.7" x2="310.4" y2="260.7"/><line x1="399.1" y1="41.7" x2="399.1" y2="260.7"/><line x1="487.8" y1="41.7" x2="487.8" y2="260.7"/>
<line x1="44.4" y1="83.9" x2="576.4" y2="83.9"/><line x1="44.4" y1="128.6" x2="576.4" y2="128.6"/><line x1="44.4" y1="173.3" x2="576.4" y2="173.3"/><line x1="44.4" y1="218" x2="576.4" y2="218"/>
</g>
<g transform="translate(310.4,173.3) scale(1.478,-1.49)">
<g clip-path="url(#lc)">
<rect x="-180" y="-90" width="360" height="180" fill="#e6dc5e"/>
<g filter="url(#bl)">
<ellipse cx="-42" cy="73" rx="14" ry="9" fill="#5a8ea4"/><ellipse cx="-95" cy="75" rx="20" ry="5" fill="#7fa69a"/>
<ellipse cx="-150" cy="65" rx="14" ry="5" fill="#a3c08c"/><ellipse cx="-112" cy="60" rx="12" ry="6" fill="#c8d47a"/>
<ellipse cx="-75" cy="55" rx="9" ry="6" fill="#b8cc84"/><ellipse cx="-65" cy="47" rx="5" ry="3" fill="#ee8a3a"/>
<ellipse cx="-88" cy="35" rx="8" ry="5" fill="#f2bb48"/><ellipse cx="-80" cy="31" rx="5" ry="4" fill="#ee8a3a"/>
<ellipse cx="-100" cy="22" rx="8" ry="6" fill="#e4632f"/><ellipse cx="-88" cy="14" rx="6" ry="4" fill="#d63a28"/>
<ellipse cx="-67" cy="6" rx="9" ry="5" fill="#e4632f"/><ellipse cx="-76" cy="-2" rx="3" ry="3" fill="#a3c08c"/>
<ellipse cx="-55" cy="-10" rx="14" ry="10" fill="#d63a28"/><ellipse cx="-60" cy="-22" rx="9" ry="6" fill="#d63a28"/>
<ellipse cx="-62" cy="-33" rx="7" ry="5" fill="#f2bb48"/><ellipse cx="-70" cy="-47" rx="5" ry="8" fill="#c8d47a"/>
<ellipse cx="12" cy="14" rx="26" ry="16" fill="#d63a28"/><ellipse cx="5" cy="33" rx="12" ry="3" fill="#f2bb48"/>
<ellipse cx="39" cy="9" rx="5" ry="7" fill="#ee8a3a"/><ellipse cx="31" cy="-2" rx="3.5" ry="2.5" fill="#7fa69a"/>
<ellipse cx="24" cy="-20" rx="13" ry="14" fill="#d63a28"/><ellipse cx="40" cy="-10" rx="3" ry="5" fill="#e4632f"/>
<ellipse cx="47" cy="-20" rx="3" ry="6" fill="#d63a28"/>
<ellipse cx="10" cy="50" rx="15" ry="5" fill="#d2d872"/><ellipse cx="35" cy="52" rx="12" ry="4" fill="#a3c08c"/>
<ellipse cx="100" cy="72" rx="30" ry="4" fill="#4a86ac"/><ellipse cx="85" cy="68" rx="20" ry="3" fill="#7fa69a"/>
<ellipse cx="118" cy="63" rx="25" ry="4" fill="#c8d47a"/><ellipse cx="78" cy="51" rx="28" ry="5" fill="#9cbc8e"/>
<ellipse cx="115" cy="48" rx="15" ry="5" fill="#c8d47a"/><ellipse cx="50" cy="31" rx="10" ry="6" fill="#ee8a3a"/>
<ellipse cx="48" cy="21" rx="8" ry="5" fill="#e4632f"/><ellipse cx="78" cy="22" rx="8" ry="8" fill="#ee8a3a"/>
<ellipse cx="90" cy="32" rx="12" ry="4" fill="#ee8a3a"/><ellipse cx="110" cy="28" rx="12" ry="6" fill="#e4632f"/>
<ellipse cx="103" cy="15" rx="6" ry="6" fill="#ee8a3a"/><ellipse cx="110" cy="0" rx="12" ry="5" fill="#f2bb48"/>
<ellipse cx="133" cy="-24" rx="14" ry="10" fill="#f2bb48"/><ellipse cx="119" cy="-31" rx="5" ry="4" fill="#a3c08c"/>
<ellipse cx="145" cy="-25" rx="5" ry="6" fill="#ee8a3a"/>
</g>
<rect x="-180" y="-90" width="360" height="180" fill="url(#mh)"/>
</g>
<use href="#land" fill="none" stroke="#1a1a1a" stroke-width="0.42"/>
<use href="#seas" fill="#fff" stroke="#1a1a1a" stroke-width="0.42"/>
<path d="M66,69.5 L64,67.5 60,65 59,61 60,57 59,54 58,51.5 54,51 51,48 49,46.5 M47.5,43.5 L44,42.5 41.5,42" fill="none" stroke="#333" stroke-width="0.35"/>
</g>
<rect x="44.4" y="41.7" width="532" height="219" fill="none" stroke="#000" stroke-width="2"/>
<g stroke="#000" stroke-width="1.3">
<path d="M44.4,41.7V36.2M133,41.7V36.2M221.7,41.7V36.2M310.4,41.7V36.2M399.1,41.7V36.2M487.8,41.7V36.2M576.4,41.7V36.2"/>
<path d="M44.4,260.7V266.2M133,260.7V266.2M221.7,260.7V266.2M310.4,260.7V266.2M399.1,260.7V266.2M487.8,260.7V266.2M576.4,260.7V266.2"/>
<path d="M44.4,83.9H38.9M44.4,128.6H38.9M44.4,173.3H38.9M44.4,218H38.9M576.4,83.9H581.9M576.4,128.6H581.9M576.4,173.3H581.9M576.4,218H581.9"/>
</g>
<g font-size="14" text-anchor="end"><text x="38" y="88.9">60°N</text><text x="38" y="133.6">30°N</text><text x="38" y="178.3">0°</text><text x="38" y="223">30°S</text></g>
<g font-size="14"><text x="584" y="88.9">60°N</text><text x="584" y="133.6">30°N</text><text x="584" y="178.3">0°</text><text x="584" y="223">30°S</text></g>
<text x="311" y="14.5" font-size="14" text-anchor="middle">(c) SSP2-4.5</text>
<g font-size="16" fill="#1a1a1a">
<text x="193" y="66">North America</text><text x="118" y="106">North America</text><text x="177" y="193">South America</text>
<text x="315" y="158">Africa</text><text x="349" y="90">Europe</text><text x="430" y="101">Asia</text><text x="480" y="216">Australia</text>
</g>
<text x="55" y="174" font-size="14">Trend</text>
<rect x="56" y="181.7" width="21.7" height="36.6" fill="url(#cb)" stroke="#111" stroke-width="1.3"/>
<text x="80" y="187.5" font-size="14">0.019</text><text x="80" y="222.5" font-size="14">-0.036</text>
<rect x="53.3" y="236.7" width="32.7" height="16" fill="url(#lh)" stroke="#111" stroke-width="1.3"/>
<text x="90" y="251" font-size="14"><tspan font-style="italic">P</tspan>&lt;0.05</text>
</g>

<!-- ============ MAP PANEL (e) ============ -->
<g transform="translate(0,540.6)">
<g stroke="#d2d2d2" stroke-width="0.7">
<line x1="133" y1="41.7" x2="133" y2="260.7"/><line x1="221.7" y1="41.7" x2="221.7" y2="260.7"/><line x1="310.4" y1="41.7" x2="310.4" y2="260.7"/><line x1="399.1" y1="41.7" x2="399.1" y2="260.7"/><line x1="487.8" y1="41.7" x2="487.8" y2="260.7"/>
<line x1="44.4" y1="83.9" x2="576.4" y2="83.9"/><line x1="44.4" y1="128.6" x2="576.4" y2="128.6"/><line x1="44.4" y1="173.3" x2="576.4" y2="173.3"/><line x1="44.4" y1="218" x2="576.4" y2="218"/>
</g>
<g transform="translate(310.4,173.3) scale(1.478,-1.49)">
<g clip-path="url(#lc)">
<rect x="-180" y="-90" width="360" height="180" fill="#e4632f"/>
<g filter="url(#bl)">
<ellipse cx="-40" cy="77" rx="12" ry="6" fill="#4a86ac"/><ellipse cx="-46" cy="64" rx="6" ry="4" fill="#c8d47a"/>
<ellipse cx="-95" cy="75" rx="20" ry="5" fill="#a3c08c"/><ellipse cx="-150" cy="66" rx="12" ry="5" fill="#d6dc6c"/>
<ellipse cx="-100" cy="65" rx="12" ry="3.5" fill="#ecdf5e"/><ellipse cx="-70" cy="53" rx="8" ry="5" fill="#ee8a3a"/>
<ellipse cx="-88" cy="14" rx="6" ry="4" fill="#d63a28"/>
<ellipse cx="-58" cy="-10" rx="14" ry="12" fill="#d63a28"/><ellipse cx="-76" cy="0" rx="3" ry="4" fill="#f2bb48"/>
<ellipse cx="-67" cy="-40" rx="6" ry="6" fill="#f2bb48"/><ellipse cx="-70" cy="-50" rx="4" ry="4" fill="#c8d47a"/>
<ellipse cx="15" cy="12" rx="25" ry="20" fill="#d63a28"/><ellipse cx="5" cy="33" rx="12" ry="3" fill="#ee8a3a"/>
<ellipse cx="40" cy="8" rx="4" ry="4" fill="#f2bb48"/><ellipse cx="30" cy="-3" rx="4" ry="3" fill="#ecdf5e"/>
<ellipse cx="22" cy="-25" rx="10" ry="8" fill="#d63a28"/>
<ellipse cx="15" cy="48" rx="15" ry="6" fill="#ecdf5e"/><ellipse cx="25" cy="62" rx="10" ry="5" fill="#e6d860"/>
<ellipse cx="40" cy="55" rx="10" ry="4" fill="#ecdf5e"/>
<ellipse cx="97" cy="71" rx="30" ry="4" fill="#4a86ac"/><ellipse cx="125" cy="67" rx="20" ry="3" fill="#7fa69a"/>
<ellipse cx="90" cy="62" rx="35" ry="3" fill="#c8d47a"/><ellipse cx="90" cy="56" rx="40" ry="3" fill="#ecdf5e"/>
<ellipse cx="90" cy="49" rx="40" ry="3" fill="#f2a844"/><ellipse cx="80" cy="38" rx="30" ry="6" fill="#e4632f"/>
<ellipse cx="105" cy="30" rx="15" ry="8" fill="#d63a28"/><ellipse cx="50" cy="30" rx="10" ry="6" fill="#e4632f"/>
<ellipse cx="78" cy="20" rx="8" ry="8" fill="#e4632f"/><ellipse cx="115" cy="0" rx="6" ry="4" fill="#ecdf5e"/>
<ellipse cx="133" cy="-22" rx="14" ry="10" fill="#ee8a3a"/><ellipse cx="120" cy="-30" rx="5" ry="5" fill="#ecdf5e"/>
<ellipse cx="145" cy="-30" rx="4" ry="6" fill="#f2bb48"/><ellipse cx="172" cy="-42" rx="5" ry="5" fill="#c8d47a"/>
</g>
<rect x="-180" y="-90" width="360" height="180" fill="url(#mh)"/>
</g>
<use href="#land" fill="none" stroke="#1a1a1a" stroke-width="0.42"/>
<use href="#seas" fill="#fff" stroke="#1a1a1a" stroke-width="0.42"/>
<path d="M66,69.5 L64,67.5 60,65 59,61 60,57 59,54 58,51.5 54,51 51,48 49,46.5 M47.5,43.5 L44,42.5 41.5,42" fill="none" stroke="#333" stroke-width="0.35"/>
</g>
<rect x="44.4" y="41.7" width="532" height="219" fill="none" stroke="#000" stroke-width="2"/>
<g stroke="#000" stroke-width="1.3">
<path d="M44.4,41.7V36.2M133,41.7V36.2M221.7,41.7V36.2M310.4,41.7V36.2M399.1,41.7V36.2M487.8,41.7V36.2M576.4,41.7V36.2"/>
<path d="M44.4,260.7V266.2M133,260.7V266.2M221.7,260.7V266.2M310.4,260.7V266.2M399.1,260.7V266.2M487.8,260.7V266.2M576.4,260.7V266.2"/>
<path d="M44.4,83.9H38.9M44.4,128.6H38.9M44.4,173.3H38.9M44.4,218H38.9M576.4,83.9H581.9M576.4,128.6H581.9M576.4,173.3H581.9M576.4,218H581.9"/>
</g>
<g font-size="14" text-anchor="middle">
<text x="44.4" y="279">180°</text><text x="133" y="279">120°W</text><text x="221.7" y="279">60°W</text><text x="310.4" y="279">0°</text><text x="399.1" y="279">60°W</text><text x="487.8" y="279">120°W</text><text x="576.4" y="279">180°</text>
</g>
<g font-size="14" text-anchor="end"><text x="38" y="88.9">60°N</text><text x="38" y="133.6">30°N</text><text x="38" y="178.3">0°</text><text x="38" y="223">30°S</text></g>
<g font-size="14"><text x="584" y="88.9">60°N</text><text x="584" y="133.6">30°N</text><text x="584" y="178.3">0°</text><text x="584" y="223">30°S</text></g>
<text x="311" y="14.5" font-size="14" text-anchor="middle">(e) SSP5-8.5</text>
<g font-size="16" fill="#1a1a1a">
<text x="193" y="66">North America</text><text x="118" y="106">North America</text><text x="177" y="193">South America</text>
<text x="315" y="158">Africa</text><text x="349" y="90">Europe</text><text x="430" y="101">Asia</text><text x="480" y="216">Australia</text>
</g>
<text x="55" y="174" font-size="14">Trend</text>
<rect x="56" y="181.7" width="21.7" height="36.6" fill="url(#cb)" stroke="#111" stroke-width="1.3"/>
<text x="80" y="187.5" font-size="14">0.031</text><text x="80" y="222.5" font-size="14">-0.040</text>
<rect x="53.3" y="236.7" width="32.7" height="16" fill="url(#lh)" stroke="#111" stroke-width="1.3"/>
<text x="90" y="251" font-size="14"><tspan font-style="italic">P</tspan>&lt;0.05</text>
</g>

<!-- ============ BAR PANEL (b) ============ -->
<g>
<text x="834" y="26" font-size="14" text-anchor="middle">(b) SSP1-2.6</text>
<g fill="url(#bh)" stroke="#000" stroke-width="1.8">
<rect x="697.5" y="66.7" width="30.5" height="194"/><rect x="747.5" y="117.4" width="30.5" height="143.3"/><rect x="797.5" y="92.5" width="30.5" height="168.2"/><rect x="847.5" y="156.8" width="30.5" height="103.9"/><rect x="897.5" y="109.1" width="30.5" height="151.6"/><rect x="947.5" y="67.3" width="30.5" height="193.4"/>
</g>
<rect x="687.3" y="41.7" width="301.7" height="219" fill="none" stroke="#000" stroke-width="2"/>
<g stroke="#000" stroke-width="1.3"><path d="M687.3,260.7H682M687.3,220.9H682M687.3,181.1H682M687.3,141.3H682M687.3,101.5H682M687.3,61.7H682M712.75,260.7V266M762.75,260.7V266M812.75,260.7V266M862.75,260.7V266M912.75,260.7V266M962.75,260.7V266"/></g>
<g font-size="15" text-anchor="end" letter-spacing="1"><text x="681" y="265.7">0</text><text x="681" y="225.9">20</text><text x="681" y="186.1">40</text><text x="681" y="146.3">60</text><text x="681" y="106.5">80</text><text x="681" y="66.7">100</text></g>
<text class="cjk" transform="translate(652,154) rotate(-90)" font-size="14" text-anchor="middle">干旱面积占比/%</text>
</g>

<!-- ============ BAR PANEL (d) ============ -->
<g transform="translate(0,270.3)">
<text x="834" y="26" font-size="14" text-anchor="middle">(d) SSP2-4.5</text>
<g fill="url(#bh)" stroke="#000" stroke-width="1.8">
<rect x="697.5" y="62.7" width="30.5" height="198"/><rect x="747.5" y="96.7" width="30.5" height="164"/><rect x="797.5" y="63.1" width="30.5" height="197.6"/><rect x="847.5" y="84.4" width="30.5" height="176.3"/><rect x="897.5" y="112.8" width="30.5" height="147.9"/><rect x="947.5" y="61.7" width="30.5" height="199"/>
</g>
<rect x="687.3" y="41.7" width="301.7" height="219" fill="none" stroke="#000" stroke-width="2"/>
<g stroke="#000" stroke-width="1.3"><path d="M687.3,260.7H682M687.3,220.9H682M687.3,181.1H682M687.3,141.3H682M687.3,101.5H682M687.3,61.7H682M712.75,260.7V266M762.75,260.7V266M812.75,260.7V266M862.75,260.7V266M912.75,260.7V266M962.75,260.7V266"/></g>
<g font-size="15" text-anchor="end" letter-spacing="1"><text x="681" y="265.7">0</text><text x="681" y="225.9">20</text><text x="681" y="186.1">40</text><text x="681" y="146.3">60</text><text x="681" y="106.5">80</text><text x="681" y="66.7">100</text></g>
<text class="cjk" transform="translate(652,154) rotate(-90)" font-size="14" text-anchor="middle">干旱面积占比/%</text>
</g>

<!-- ============ BAR PANEL (f) ============ -->
<g transform="translate(0,540.6)">
<text x="834" y="26" font-size="14" text-anchor="middle">(f) SSP5-8.5</text>
<g fill="url(#bh)" stroke="#000" stroke-width="1.8">
<rect x="697.5" y="61.7" width="30.5" height="199"/><rect x="747.5" y="96.1" width="30.5" height="164.6"/><rect x="797.5" y="61.1" width="30.5" height="199.6"/><rect x="847.5" y="81.2" width="30.5" height="179.5"/><rect x="897.5" y="104.9" width="30.5" height="155.8"/><rect x="947.5" y="61.1" width="30.5" height="199.6"/>
</g>
<rect x="687.3" y="41.7" width="301.7" height="219" fill="none" stroke="#000" stroke-width="2"/>
<g stroke="#000" stroke-width="1.3"><path d="M687.3,260.7H682M687.3,220.9H682M687.3,181.1H682M687.3,141.3H682M687.3,101.5H682M687.3,61.7H682M712.75,260.7V266M762.75,260.7V266M812.75,260.7V266M862.75,260.7V266M912.75,260.7V266M962.75,260.7V266"/></g>
<g font-size="15" text-anchor="end" letter-spacing="1"><text x="681" y="265.7">0</text><text x="681" y="225.9">20</text><text x="681" y="186.1">40</text><text x="681" y="146.3">60</text><text x="681" y="106.5">80</text><text x="681" y="66.7">100</text></g>
<text class="cjk" transform="translate(652,154) rotate(-90)" font-size="14" text-anchor="middle">干旱面积占比/%</text>
<g class="cjk" font-size="13" text-anchor="middle">
<text x="712.75" y="284">非洲</text><text x="762.75" y="284">亚洲</text><text x="812.75" y="284">大洋洲</text><text x="862.75" y="284">欧洲</text><text x="912.75" y="284">北美洲</text><text x="962.75" y="284">南美洲</text>
</g>
</g>
</svg>
</body></html>
